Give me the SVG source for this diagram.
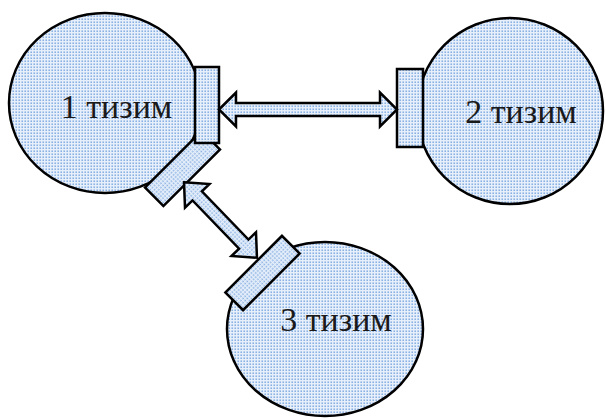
<svg xmlns="http://www.w3.org/2000/svg" width="606" height="418" viewBox="0 0 606 418">
<defs>
<pattern id="dots" width="3" height="3" patternUnits="userSpaceOnUse">
<rect width="3" height="3" fill="#e6effa"/>
<rect x="0.5" y="0.5" width="1.4" height="1.4" fill="#74a2de"/>
</pattern>
</defs>
<style>
.shape{fill:url(#dots);stroke:#000;stroke-width:2.5;stroke-linejoin:miter}
.lbl{font-family:"Liberation Serif","Times New Roman",serif;font-size:34px;fill:#1a1a1a;text-anchor:middle}
</style>
<g id="node1">
<ellipse class="shape" cx="105" cy="103" rx="96" ry="90"/>
<rect class="shape" x="-40" y="-13" width="80" height="26" transform="translate(182.5,168.5) rotate(-45)"/>
<rect class="shape" x="195" y="67" width="24" height="76"/>
<text class="lbl" x="116.5" y="118">1 тизим</text>
</g>
<g id="node2">
<circle class="shape" cx="510" cy="111" r="93"/>
<rect class="shape" x="397" y="69" width="26" height="78"/>
<text class="lbl" x="521" y="123">2 тизим</text>
</g>
<g id="node3">
<ellipse class="shape" cx="325" cy="329" rx="98" ry="87"/>
<rect class="shape" x="-40" y="-12.5" width="80" height="25" transform="translate(262.5,273) rotate(-45)"/>
<text class="lbl" x="336" y="331">3 тизим</text>
</g>
<g id="connectors">
<polygon class="shape" points="219,109.5 236,92.5 236,103 380,103 380,92.5 397,109.5 380,126.5 380,116 236,116 236,126.5"/>
<polygon class="shape" transform="translate(220.5,220) rotate(46)" points="-52.5,0 -33.5,-17 -33.5,-6.5 33.5,-6.5 33.5,-17 52.5,0 33.5,17 33.5,6.5 -33.5,6.5 -33.5,17"/>
</g>
</svg>
